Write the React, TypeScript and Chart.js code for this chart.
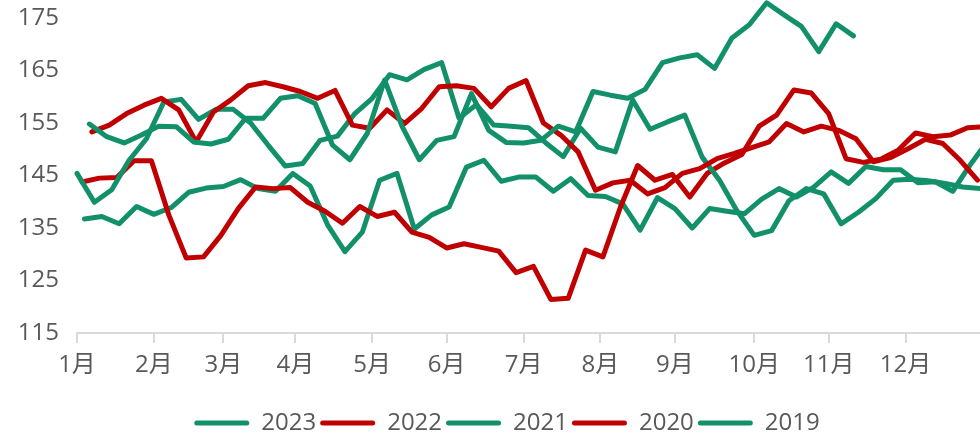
import React, { useEffect, useRef } from "react";
import { Chart, registerables } from "chart.js";

Chart.register(...registerables);

// ---- data (weekly readings, x = day of year of each reading) ----
const seriesNames = ["2023", "2022", "2021", "2020", "2019"];
const seriesColors = ["#12906a", "#c00000", "#12906a", "#c00000", "#12906a"];
const firstDay = [5, 6, 0, 2, 3]; // day-of-year of first weekly reading
const stepDays = 7;

const values2023 = [154.8, 152.4, 151.2, 152.7, 154.4, 154.3, 151.4, 151.0, 151.9, 155.9,
  155.9, 159.7, 160.2, 158.7, 150.8, 148.0, 153.0, 163.2, 154.4, 148.0,
  151.7, 152.4, 160.6, 153.6, 151.3, 151.2, 151.7, 154.4, 153.3, 161.0,
  160.3, 159.7, 161.4, 166.5, 167.4, 168.0, 165.4, 171.2, 173.7, 177.9,
  175.6, 173.4, 168.6, 173.9, 171.6];
const values2022 = [153.3, 154.6, 156.8, 158.4, 159.7, 157.5, 151.4, 157.1, 159.4, 162.1,
  162.7, 161.9, 161.0, 159.7, 161.2, 154.6, 154.0, 157.5, 154.9, 157.8,
  161.9, 162.1, 161.6, 158.1, 161.6, 163.1, 155.0, 152.7, 149.5, 142.2,
  143.6, 144.1, 141.5, 142.7, 145.4, 146.3, 148.2, 149.2, 150.3, 151.4,
  154.9, 153.3, 154.4, 153.6, 152.0, 147.6, 148.4, 150.1, 151.9, 151.1,
  147.9, 144.1];
const values2021 = [145.4, 139.9, 142.3, 147.9, 152.0, 159.0, 159.5, 155.7, 157.6, 157.6,
  155.0, 150.8, 146.8, 147.3, 151.7, 152.5, 156.8, 159.7, 164.2, 163.2,
  165.2, 166.5, 155.9, 158.5, 154.6, 154.4, 154.1, 151.2, 148.6, 154.0,
  150.4, 149.5, 159.4, 153.8, 155.2, 156.5, 148.5, 144.1, 138.3, 133.6,
  134.5, 140.2, 142.5, 141.5, 135.8, 138.0, 140.6, 144.1, 144.3, 144.0,
  143.5, 142.8, 142.5];
const values2020 = [143.75, 144.5, 144.6, 147.8, 147.8, 137.5, 129.3, 129.5, 133.6, 138.7,
  142.8, 142.5, 142.7, 139.9, 138.2, 135.9, 139.1, 137.2, 138.0, 134.2,
  133.2, 131.2, 132.0, 131.3, 130.6, 126.5, 127.7, 121.4, 121.6, 130.8,
  129.5, 138.9, 146.9, 144.1, 145.2, 140.9, 145.4, 147.4, 149.0, 154.4,
  156.5, 161.3, 160.7, 156.8, 148.2, 147.5, 148.1, 149.8, 153.1, 152.4,
  152.7, 154.1, 154.3];
const values2019 = [136.7, 137.2, 135.8, 139.1, 137.6, 138.9, 141.8, 142.6, 142.9, 144.2,
  142.5, 142.0, 145.4, 143.0, 135.6, 130.5, 134.2, 144.1, 145.4, 134.8,
  137.5, 139.0, 146.6, 147.9, 143.9, 144.7, 144.7, 142.0, 144.4, 141.2,
  141.0, 139.6, 134.6, 140.8, 138.7, 135.0, 138.7, 138.2, 137.7, 140.5,
  142.5, 140.9, 142.8, 145.7, 143.5, 146.7, 146.1, 146.1, 143.6, 143.8,
  142.0, 147.0, 151.5];

const seriesValues = [values2023, values2022, values2021, values2020, values2019];

const monthLabels = ["1月", "2月", "3月", "4月", "5月", "6月", "7月", "8月", "9月", "10月", "11月", "12月"];
const monthTickDays = [0, 31, 59, 88, 119, 149, 180, 211, 241, 273, 303, 334];
const yTicks = [115, 125, 135, 145, 155, 165, 175];

const TEXT = "#595959";
const AXIS = "#d9d9d9";

export default function App() {
  const ref = useRef<HTMLCanvasElement | null>(null);

  useEffect(() => {
    if (!ref.current) return;
    Chart.defaults.font.family = "'Open Sans', 'Noto Sans CJK SC', sans-serif";

    const datasets = seriesNames.map((name, s) => ({
      label: name,
      data: seriesValues[s].map((v, i) => ({ x: firstDay[s] + stepDays * i, y: v })),
      borderColor: seriesColors[s],
      backgroundColor: seriesColors[s],
      borderWidth: 5,
      pointRadius: 0,
      pointHoverRadius: 0,
      tension: 0,
      borderJoinStyle: "round" as const,
      borderCapStyle: "round" as const,
      clip: false as const,
    }));

    const legendShift = {
      id: "legendShift",
      afterLayout(chart: any) {
        if (chart.legend) chart.legend.left = 34;
      },
    };

    const chart = new Chart(ref.current, {
      type: "line",
      data: { datasets },
      plugins: [legendShift],
      options: {
        responsive: false,
        animation: false,
        events: [],
        layout: { padding: { top: 18, bottom: -8, left: 0, right: 0 } },
        plugins: {
          tooltip: { enabled: false },
          legend: {
            position: "bottom",
            labels: {
              boxWidth: 55,
              boxHeight: 5,
              padding: 4,
              color: TEXT,
              font: { size: 24 },
              useBorderRadius: true,
              borderRadius: 2.5,
              generateLabels: (c: any) =>
                Chart.defaults.plugins.legend.labels.generateLabels(c).map((l: any) => ({
                  ...l,
                  lineWidth: 0,
                  fillStyle: seriesColors[l.datasetIndex],
                  strokeStyle: seriesColors[l.datasetIndex],
                })),
            },
          },
        },
        scales: {
          x: {
            type: "linear",
            min: 0,
            max: 364,
            afterBuildTicks: (s: any) => {
              s.ticks = monthTickDays.map((v) => ({ value: v }));
            },
            afterFit: (s: any) => {
              s.height = 74;
            },
            ticks: {
              autoSkip: false,
              maxRotation: 0,
              padding: 8,
              color: TEXT,
              font: { size: 24 },
              callback: (_v: any, i: number) => monthLabels[i],
            },
            grid: { drawOnChartArea: false, drawTicks: true, tickLength: 10, color: AXIS, lineWidth: 2 },
            border: { display: true, color: AXIS, width: 2 },
          },
          y: {
            min: 115,
            max: 175,
            afterBuildTicks: (s: any) => {
              s.ticks = yTicks.map((v) => ({ value: v }));
            },
            afterFit: (s: any) => {
              s.width = 77;
              s.paddingTop = 0;
              s.paddingBottom = 0;
            },
            ticks: { padding: 18, color: TEXT, font: { size: 24 } },
            grid: { display: false, drawTicks: false },
            border: { display: false },
          },
        },
      },
    });
    return () => chart.destroy();
  }, []);

  return (
    <div style={{ position: "absolute", left: 0, top: 0, width: 980, height: 437, background: "#fff" }}>
      <canvas ref={ref} width={980} height={437} style={{ display: "block" }} />
    </div>
  );
}
